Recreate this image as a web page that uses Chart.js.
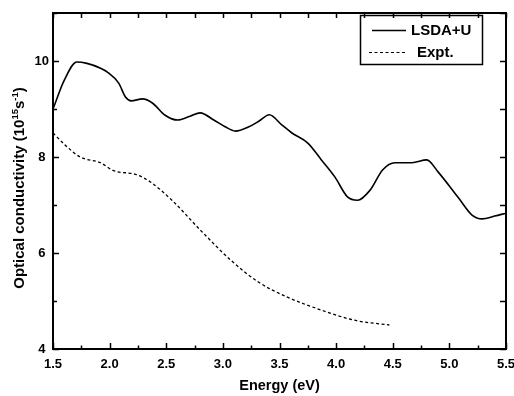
<!DOCTYPE html>
<html>
<head>
<meta charset="utf-8">
<script src="https://cdn.jsdelivr.net/npm/chart.js@4/dist/chart.umd.min.js"></script>
<style>
html,body{margin:0;padding:0;background:#fff;}
canvas{display:block;}
</style>
</head>
<body>
<canvas id="c" width="514" height="396"></canvas>
<script>
// Data
const lsdaEnergy = [1.50,1.60,1.71,1.80,1.92,1.98,2.08,2.14,2.19,2.29,2.38,2.49,2.60,2.71,2.80,2.92,3.02,3.11,3.23,3.32,3.41,3.52,3.61,3.75,3.87,3.99,4.10,4.19,4.30,4.41,4.52,4.67,4.80,4.90,5.08,5.20,5.29,5.40,5.50];
const lsdaValues = [9.00,9.60,9.98,9.95,9.85,9.77,9.54,9.25,9.17,9.21,9.12,8.87,8.77,8.85,8.92,8.77,8.63,8.54,8.63,8.75,8.88,8.67,8.50,8.29,7.94,7.58,7.17,7.10,7.31,7.73,7.88,7.88,7.94,7.69,7.15,6.79,6.71,6.77,6.83];
const exptEnergy = [1.50,1.62,1.74,1.92,2.03,2.24,2.36,2.55,2.80,3.07,3.31,3.57,3.87,4.16,4.47];
const exptValues = [8.50,8.22,8.00,7.88,7.72,7.63,7.48,7.10,6.48,5.85,5.40,5.08,4.81,4.60,4.50];
const seriesLabels = ["LSDA+U","Expt."];
const xTickValues = [1.5,2.0,2.5,3.0,3.5,4.0,4.5,5.0,5.5];
const yTickLabels = [4,6,8,10];
const yTitleParts = [["Optical conductivity (10",0],["15",1],["s",0],["-1",1],[")",0]];
const xTitle = "Energy (eV)";

const toPts = (xs, ys) => xs.map((x,i)=>({x:x,y:ys[i]}));
const FONT = "'Liberation Sans', Arial, sans-serif";

const framePlugin = {
  id:'frame',
  afterDraw(chart){
    const {ctx, chartArea:a, scales:{x,y}} = chart;
    ctx.save();
    ctx.strokeStyle='#000';
    ctx.lineWidth=2;
    ctx.strokeRect(a.left, a.top, a.right-a.left, a.bottom-a.top);
    ctx.lineWidth=1.5;
    ctx.beginPath();
    for(let v=1.5; v<=5.5001; v+=0.25){
      const px = Math.round(x.getPixelForValue(v))+0.5;
      const major = Math.abs(v*2-Math.round(v*2))<1e-6;
      ctx.moveTo(px,a.bottom); ctx.lineTo(px,a.bottom-(major?6:3.5));
      ctx.moveTo(px,a.top); ctx.lineTo(px,a.top+5);
    }
    for(let v=4; v<=11; v+=1){
      const py = Math.round(y.getPixelForValue(v))+0.5;
      const major = v%2===0;
      ctx.moveTo(a.left,py); ctx.lineTo(a.left+(major?6:4),py);
      ctx.moveTo(a.right,py); ctx.lineTo(a.right-6,py);
    }
    ctx.stroke();

    // y title with superscripts
    ctx.fillStyle='#000';
    const big = "bold 15px "+FONT, small = "bold 9.5px "+FONT;
    let total = 0;
    yTitleParts.forEach(p=>{ ctx.font = p[1]?small:big; total += ctx.measureText(p[0]).width; });
    ctx.save();
    ctx.translate(23.5, 188);
    ctx.rotate(-Math.PI/2);
    ctx.textBaseline='alphabetic';
    ctx.textAlign='left';
    let cx = -total/2;
    yTitleParts.forEach(p=>{
      ctx.font = p[1]?small:big;
      ctx.fillText(p[0], cx, p[1]?-6:0);
      cx += ctx.measureText(p[0]).width;
    });
    ctx.restore();

    // legend box
    const bx=360.5, by=15.5, bw=122, bh=49;
    ctx.lineWidth=1.5;
    ctx.strokeRect(bx,by,bw,bh);
    const ds = chart.data.datasets;
    ctx.font = "bold 15px "+FONT;
    ctx.textBaseline='middle';
    ctx.textAlign='left';
    ctx.lineWidth=1.5;
    ctx.setLineDash([]);
    ctx.beginPath(); ctx.moveTo(372,30.5); ctx.lineTo(406,30.5); ctx.stroke();
    ctx.fillText(ds[0].label, 411, 31);
    ctx.lineWidth=1.2;
    ctx.setLineDash(ds[1].borderDash);
    ctx.beginPath(); ctx.moveTo(369,52.5); ctx.lineTo(406,52.5); ctx.stroke();
    ctx.setLineDash([]);
    ctx.fillText(ds[1].label, 417, 53);
    ctx.restore();
  }
};

new Chart(document.getElementById('c'), {
  type:'line',
  data:{
    datasets:[
      {label:seriesLabels[0], data:toPts(lsdaEnergy,lsdaValues), borderColor:'#000', borderWidth:1.6, pointRadius:0, fill:false, cubicInterpolationMode:'monotone'},
      {label:seriesLabels[1], data:toPts(exptEnergy,exptValues), borderColor:'#000', borderWidth:1.3, borderDash:[3,2.5], pointRadius:0, fill:false, cubicInterpolationMode:'monotone'}
    ]
  },
  options:{
    responsive:false,
    devicePixelRatio:1,
    animation:false,
    layout:{padding:{top:13,right:8,left:0,bottom:0}},
    plugins:{legend:{display:false}, tooltip:{enabled:false}},
    scales:{
      x:{
        type:'linear', min:1.5, max:5.5,
        afterBuildTicks(s){ s.ticks = xTickValues.map(v=>({value:v})); },
        afterFit(s){ s.height = 47; s.paddingLeft = 0; s.paddingRight = 0; },
        grid:{display:false, drawTicks:false},
        border:{display:false},
        ticks:{padding:8, color:'#000', font:{family:FONT, weight:'bold', size:13}, callback:v=>Number(v).toFixed(1), maxRotation:0},
        title:{display:true, text:xTitle, color:'#000', font:{family:FONT, weight:'bold', size:14.5}, padding:{top:0,bottom:1}}
      },
      y:{
        type:'linear', min:4, max:11,
        afterBuildTicks(s){ s.ticks = yTickLabels.map(v=>({value:v})); },
        afterFit(s){ s.width = 53; s.paddingTop = 0; s.paddingBottom = 0; },
        grid:{display:false, drawTicks:false},
        border:{display:false},
        ticks:{padding:4, crossAlign:'center', color:'#000', font:{family:FONT, weight:'bold', size:13}},
        title:{display:false}
      }
    }
  },
  plugins:[framePlugin]
});
</script>
</body>
</html>
